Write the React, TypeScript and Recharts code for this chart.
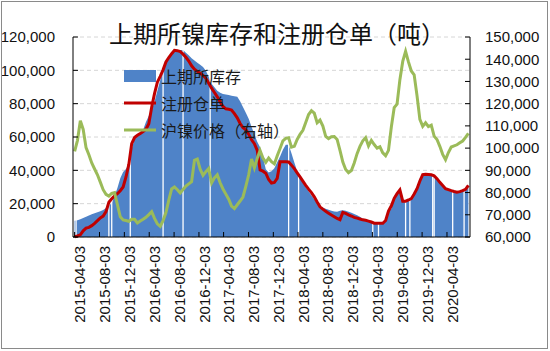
import React from 'react';
import {
  ComposedChart,
  Area,
  Line,
  XAxis,
  YAxis,
  CartesianGrid,
  ReferenceLine,
  Legend,
} from 'recharts';

// ---------------- data ----------------
// weekly (Friday) series, sampled every two weeks starting at START_DATE
const START_DATE = '2015-04-03';
const STEP_DAYS = 14;

// SHFE nickel inventory (tons, left axis)
const inventory = [
  9800, 10000, 10600, 11400, 12200, 12900, 13600, 14200, 14900, 15500,
  16200, 17400, 18800, 20200, 24700, 29400, 35200, 39000, 40800, 43800,
  52800, 58800, 60400, 61500, 64300, 69000, 72700, 76200, 81100, 87800,
  94000, 99600, 104400, 108500, 110000, 112000, 112200, 112200, 112200, 110500,
  109000, 107200, 105900, 104600, 103400, 102000, 99800, 96000, 92000, 89800,
  87800, 86600, 85800, 85500, 85200, 84800, 84500, 84100, 81500, 78000,
  74500, 70900, 66200, 61600, 57100, 53800, 48000, 40600, 38700, 39500,
  41300, 44900, 48300, 52400, 55400, 55300, 50200, 44700, 39500, 36100,
  32600, 29800, 27400, 24900, 22600, 20300, 18200, 17500, 16900, 16300,
  15800, 15300, 15100, 15700, 16100, 15800, 15200, 14600, 13800, 13000,
  12200, 11000, 10200, 9700, 9000, 8300, 8200, 8200, 8200, 9900,
  15300, 17000, 23000, 26200, 28500, 21500, 21000, 22100, 23000, 25800,
  29300, 35300, 37500, 37500, 37200, 37200, 36500, 34900, 32900, 30800,
  29000, 28100, 27200, 27000, 26900, 27200, 27900, 28700, 31000,
];

// registered warrants (tons, left axis)
const warrants = [
  200, 600, 1300, 3700, 5300, 5800, 6800, 8200, 9800, 11500,
  12500, 15200, 20800, 22900, 24700, 26000, 27800, 30000, 36000, 43600,
  56000, 59700, 61000, 62100, 63300, 64700, 68000, 77900, 86000, 92900,
  96400, 100300, 105000, 107700, 110000, 112000, 111800, 111300, 109700, 107800,
  105600, 102700, 100700, 99400, 98200, 97000, 95200, 92300, 89300, 86700,
  84100, 81000, 78300, 76900, 76600, 76200, 74000, 71500, 68100, 65600,
  64400, 61700, 58300, 56000, 52000, 40200, 39500, 38300, 34500, 32400,
  32700, 35200, 45200, 45200, 45200, 45000, 43100, 41000, 38500, 36100,
  33500, 31000, 28700, 26600, 24100, 21000, 18100, 16700, 15400, 14300,
  13200, 12200, 11100, 10400, 14800, 14200, 13300, 12600, 11800, 11300,
  10800, 10300, 10000, 9500, 9000, 8300, 8200, 8200, 8200, 9900,
  15600, 18700, 23200, 26000, 28300, 21500, 21500, 22200, 23000, 25800,
  29000, 33600, 37400, 37600, 37500, 37300, 36700, 35000, 32800, 30900,
  29000, 28400, 27800, 27300, 26900, 27200, 27800, 28600, 31000,
];

// SHFE nickel price (yuan/ton, right axis)
const price = [
  98500, 103500, 112300, 108400, 100200, 97000, 93300, 90600, 88000, 84700,
  81300, 79200, 78400, 79600, 80000, 74500, 69100, 67700, 67400, 67000,
  68000, 68000, 66300, 67200, 68000, 68900, 70100, 71400, 68400, 65900,
  64800, 67400, 71000, 76600, 81600, 82500, 81300, 79800, 81400, 82900,
  83900, 84900, 94500, 95100, 90500, 87700, 89400, 90800, 84300, 86600,
  88000, 84400, 81600, 79300, 77000, 73900, 72800, 74500, 76200, 78000,
  82800, 88000, 95100, 91100, 95400, 98900, 95500, 93600, 95500, 93900,
  92900, 96500, 99800, 103300, 104400, 104700, 100400, 100800, 103900, 106200,
  108000, 111500, 115100, 116800, 115700, 111400, 112600, 109900, 105300, 104300,
  105100, 105200, 103900, 99000, 93700, 90400, 88900, 89900, 93300, 97500,
  100800, 103300, 104700, 101000, 103500, 101600, 100000, 100600, 97900, 96600,
  99000, 109500, 118200, 119800, 130800, 139000, 143500, 138800, 134700, 133000,
  123600, 112900, 109800, 111400, 109700, 110300, 105400, 103900, 100800, 97200,
  94800, 98000, 100500, 101000, 101500, 102400, 103200, 104800, 106600,
];

// weeks with no inventory bar (holidays) and the bar height around them
const holidayDates = [
  '2015-04-10', '2015-09-18', '2015-10-02', '2016-01-01', '2016-06-10',
  '2016-09-16', '2017-01-27', '2018-02-16', '2018-04-06', '2019-04-05',
  '2019-05-03', '2019-09-13', '2019-10-04', '2020-01-24', '2020-01-31',
  '2020-05-01', '2020-06-26',
];
const holidayHeights = [
  11000, 20500, 22500, 50000, 101000,
  113000, 96000, 57000, 41000, 10000,
  9500, 23000, 24000, 38500, 38500,
  28500, 30000,
];

const xTickLabels = [
  '2015-04-03', '2015-08-03', '2015-12-03', '2016-04-03', '2016-08-03',
  '2016-12-03', '2017-04-03', '2017-08-03', '2017-12-03', '2018-04-03',
  '2018-08-03', '2018-12-03', '2019-04-03', '2019-08-03', '2019-12-03',
  '2020-04-03',
];
const X_RANGE = ['2015-03-26', '2020-07-25'];

const leftTicks = [0, 20000, 40000, 60000, 80000, 100000, 120000];
const rightTicks = [60000, 70000, 80000, 90000, 100000, 110000, 120000, 130000, 140000, 150000];

const TITLE = '上期所镍库存和注册仓单（吨）';
const NAME_INV = '上期所库存';
const NAME_WAR = '注册仓单';
const NAME_PRICE = '沪镍价格（右轴）';

// ---------------- styles ----------------
const BLUE = '#4F83C8';
const RED = '#C00000';
const GREEN = '#9BBB59';
const CJK = '"Noto Sans CJK SC", "Noto Sans", sans-serif';
const NUM_FONT = '"Liberation Sans", Arial, sans-serif';

const DAY = 86400000;
const toMs = (s: string) => Date.parse(s + 'T00:00:00Z');
const fmtDate = (ms: number) => new Date(ms).toISOString().slice(0, 10);
const fmtNum = (v: number) => v.toLocaleString('en-US');

const data = inventory.map((v, i) => ({
  t: toMs(START_DATE) + i * STEP_DAYS * DAY,
  inventory: v,
  warrants: warrants[i],
  price: price[i],
}));

const legendItems = [
  { name: NAME_INV, color: BLUE, kind: 'rect' },
  { name: NAME_WAR, color: RED, kind: 'line' },
  { name: NAME_PRICE, color: GREEN, kind: 'line' },
];

const renderLegend = () => (
  <div style={{ fontFamily: CJK, fontSize: 16, color: '#1a1a1a' }}>
    {legendItems.map((it) => (
      <div
        key={it.name}
        style={{ display: 'flex', alignItems: 'center', height: 27 }}
      >
        <svg width={32} height={14} style={{ display: 'block' }}>
          {it.kind === 'rect' ? (
            <rect x={0} y={1} width={32} height={12} fill={it.color} />
          ) : (
            <line x1={0} y1={7} x2={32} y2={7} stroke={it.color} strokeWidth={3} />
          )}
        </svg>
        <span style={{ marginLeft: 5, lineHeight: '16px', whiteSpace: 'nowrap' }}>
          {it.name}
        </span>
      </div>
    ))}
  </div>
);

export default function App() {
  return (
    <div
      style={{
        position: 'absolute',
        left: 0,
        top: 0,
        width: 550,
        height: 351,
        background: '#fff',
        overflow: 'hidden',
      }}
    >
      <ComposedChart
        width={550}
        height={351}
        data={data}
        margin={{ top: 37, right: 0, bottom: 0, left: 0 }}
      >
        <CartesianGrid
          yAxisId="left"
          vertical={false}
          stroke="#d6d6d6"
          strokeDasharray="4 3"
        />
        <XAxis
          dataKey="t"
          type="number"
          domain={[toMs(X_RANGE[0]), toMs(X_RANGE[1])]}
          ticks={xTickLabels.map(toMs)}
          tickFormatter={fmtDate}
          interval={0}
          height={114}
          tickSize={-5}
          tickMargin={14}
          axisLine={{ stroke: '#000' }}
          tickLine={{ stroke: '#000' }}
          tick={{
            angle: -90,
            textAnchor: 'end',
            verticalAnchor: 'middle',
            fontSize: 15,
            fontFamily: NUM_FONT,
            fill: '#111',
          }}
        />
        <YAxis
          yAxisId="left"
          domain={[0, 120000]}
          ticks={leftTicks}
          tickFormatter={fmtNum}
          width={73}
          tickSize={-5}
          tickMargin={23}
          interval={0}
          axisLine={{ stroke: '#000' }}
          tickLine={{ stroke: '#000' }}
          tick={{ fontSize: 15, fontFamily: NUM_FONT, fill: '#111' }}
        />
        <YAxis
          yAxisId="right"
          orientation="right"
          domain={[60000, 150000]}
          ticks={rightTicks}
          tickFormatter={fmtNum}
          width={80}
          tickSize={-5}
          tickMargin={20}
          interval={0}
          axisLine={{ stroke: '#000' }}
          tickLine={{ stroke: '#000' }}
          tick={{ fontSize: 15, fontFamily: NUM_FONT, fill: '#111', textAnchor: 'start' }}
        />
        <Area
          yAxisId="left"
          dataKey="inventory"
          name={NAME_INV}
          type="linear"
          fill={BLUE}
          fillOpacity={1}
          stroke="none"
          isAnimationActive={false}
        />
        {holidayDates.map((d, i) => (
          <ReferenceLine
            key={d}
            yAxisId="left"
            segment={[
              { x: toMs(d), y: 0 },
              { x: toMs(d), y: holidayHeights[i] },
            ]}
            stroke="#ffffff"
            strokeWidth={1.3}
            zIndex={150}
          />
        ))}
        <Line
          yAxisId="left"
          dataKey="warrants"
          name={NAME_WAR}
          type="linear"
          stroke={RED}
          strokeWidth={3}
          dot={false}
          isAnimationActive={false}
        />
        <Line
          yAxisId="right"
          dataKey="price"
          name={NAME_PRICE}
          type="linear"
          stroke={GREEN}
          strokeWidth={3}
          dot={false}
          isAnimationActive={false}
        />
        <Legend
          layout="horizontal"
          verticalAlign="middle"
          align="center"
          content={renderLegend}
          wrapperStyle={{ top: 62, left: 124, width: 220, height: 81 }}
        />
      </ComposedChart>
      <div
        style={{
          position: 'absolute',
          top: 19,
          left: 2,
          width: 550,
          textAlign: 'center',
          fontFamily: CJK,
          fontSize: 24,
          lineHeight: '28px',
          color: '#111',
          whiteSpace: 'nowrap',
        }}
      >
        {TITLE}
      </div>
      <div
        style={{
          position: 'absolute',
          left: 1,
          top: 1,
          width: 547,
          height: 348,
          border: '1px solid #8a8a8a',
          boxSizing: 'border-box',
          pointerEvents: 'none',
        }}
      />
    </div>
  );
}
